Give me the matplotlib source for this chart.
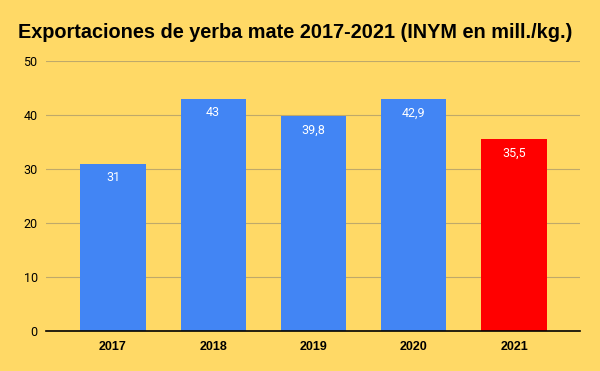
import numpy as np
import matplotlib.pyplot as plt

# Datos
anios = ["2017", "2018", "2019", "2020", "2021"]
valores = [31, 43, 39.8, 42.9, 35.5]
etiquetas = ["31", "43", "39,8", "42,9", "35,5"]
colores = ["#4285F4", "#4285F4", "#4285F4", "#4285F4", "#FF0000"]

plt.rcParams['font.family'] = ['Liberation Sans', 'DejaVu Sans']
fondo = "#FFD966"

fig = plt.figure(figsize=(6, 3.71), dpi=100, facecolor=fondo)
ax = fig.add_axes([46/600, 1-331/371, 534/600, 270/371], facecolor=fondo)

pos = np.arange(len(anios))
barras = ax.bar(pos, valores, width=0.65, color=colores, zorder=3)

# Etiquetas blancas dentro de cada barra
for b, t in zip(barras, etiquetas):
    ax.text(b.get_x() + b.get_width()/2, b.get_height() - 2.6, t,
            ha="center", va="center", color="white", fontsize=9,
            family="Roboto", zorder=4)

ax.set_xlim(-0.668, 4.658)
ax.set_ylim(0, 50)
ax.set_yticks([0, 10, 20, 30, 40, 50])
ax.set_xticks(pos)
ax.set_xticklabels(anios, fontweight="bold", fontsize=9)
for lbl in ax.get_yticklabels():
    lbl.set_family("Roboto")
ax.tick_params(axis="y", labelsize=9, length=0, pad=6)
ax.tick_params(axis="x", length=0, pad=7)
ax.grid(axis="y", color="#BFA96A", linewidth=0.8, zorder=0)
for s in ["top", "right", "left"]:
    ax.spines[s].set_visible(False)
ax.spines["bottom"].set_color("black")
ax.spines["bottom"].set_linewidth(1.2)
ax.spines["bottom"].set_zorder(5)

fig.text(295/600, 1-33/371, "Exportaciones de yerba mate 2017-2021 (INYM en mill./kg.)",
         ha="center", va="center", fontsize=14.3, fontweight="bold")

fig.savefig("out.png", dpi=100, facecolor=fondo)
